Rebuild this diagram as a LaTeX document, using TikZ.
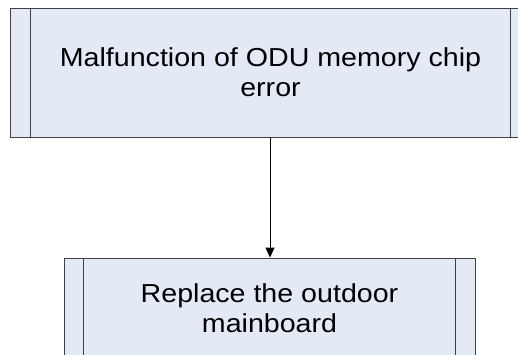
\documentclass[tikz,border=0pt]{standalone}
\usepackage{fontspec}
\setmainfont{Liberation Sans}[FakeStretch=1.1]
\usepackage{xcolor}
\usetikzlibrary{calc,arrows.meta}

\definecolor{boxfill}{HTML}{E4EAF5}
\definecolor{boxline}{HTML}{404040}

\begin{document}
\begin{tikzpicture}[x=1pt, y=-1pt, inner sep=0pt,
    procbox/.style={draw=boxline, fill=boxfill, line width=0.9pt, align=center,
        font=\fontsize{26}{30}\selectfont}]
            \useasboundingbox (0,0) rectangle (518,354);

            \node[procbox, minimum width=521pt, minimum height=129pt] (err) at (270.5, 72.5) {Malfunction of ODU memory chip\\error};
            \node[procbox, minimum width=411pt, minimum height=100pt] (fix) at (269.5, 308) {Replace the outdoor\\mainboard};

            \draw[boxline, line width=0.9pt] ([xshift=21pt]err.north west) -- ([xshift=21pt]err.south west);
            \draw[boxline, line width=0.9pt] ([xshift=-21pt]err.north east) -- ([xshift=-21pt]err.south east);
            \draw[boxline, line width=0.9pt] ([xshift=20pt]fix.north west) -- ([xshift=20pt]fix.south west);
            \draw[boxline, line width=0.9pt] ([xshift=-20pt]fix.north east) -- ([xshift=-20pt]fix.south east);

            \draw[-{Triangle[length=10pt, width=9pt]}, line width=0.9pt] ([xshift=-0.5pt]err.south) -- ([xshift=0.5pt]fix.north);
        \end{tikzpicture}
\end{document}
